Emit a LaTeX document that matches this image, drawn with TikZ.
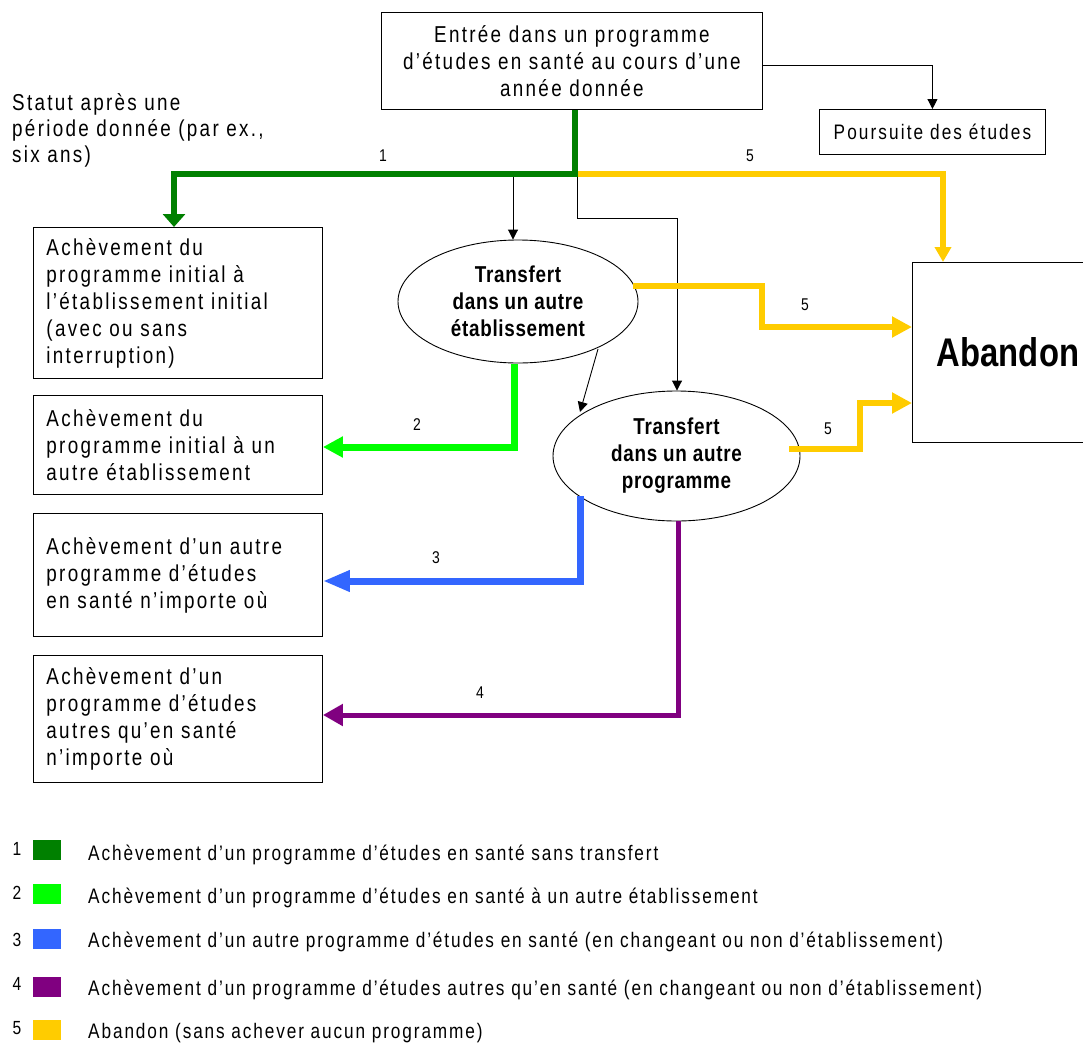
\documentclass[tikz,border=0pt]{standalone}
\usepackage{fontspec}
\setmainfont{Liberation Sans}[FakeStretch=0.82,LetterSpace=10]
\newfontfamily\legfont{Liberation Sans}[FakeStretch=0.82,LetterSpace=9]
\newfontfamily\ovfont{Liberation Sans}[FakeStretch=0.82,LetterSpace=3]
\newfontfamily\abfont{Liberation Sans}[FakeStretch=0.82]
\usetikzlibrary{arrows.meta,shapes.geometric}
\definecolor{cDG}{HTML}{008000}
\definecolor{cBG}{HTML}{00FF00}
\definecolor{cBL}{HTML}{3366FF}
\definecolor{cPU}{HTML}{800080}
\definecolor{cYE}{HTML}{FFCC00}
\tikzset{
  txt/.style={font=\fontsize{23}{27}\selectfont},
  box/.style={draw, line width=0.9pt, anchor=north west, txt, align=left, inner xsep=13pt, inner ysep=0pt},
  oval/.style={draw, ellipse, line width=0.9pt, inner sep=0pt, align=center, font=\fontsize{23}{27}\selectfont\ovfont\bfseries},
  thinarrow/.style={line width=0.9pt, -{Triangle[width=10pt,length=10pt]}},
  thick/.style={line width=6pt},
  lab/.style={font=\fontsize{17}{20}\selectfont\legfont, inner sep=0pt},
  swatch/.style={minimum width=28pt, minimum height=20pt, inner sep=0pt, anchor=north west},
  legtxt/.style={font=\fontsize{21}{25}\selectfont\legfont, anchor=west, inner sep=0pt},
  legnum/.style={font=\fontsize{19}{20}\selectfont\legfont, inner sep=0pt}
}
\begin{document}
\begin{tikzpicture}[x=1pt,y=-1pt]
\useasboundingbox (0,0) rectangle (1083,1044);

% boxes
\node[draw, line width=0.9pt, anchor=north west, minimum width=381pt, minimum height=97pt, txt, align=center, inner sep=0pt] (entry) at (381,12)
  {Entrée dans un programme\\d’études en santé au cours d’une\\année donnée};
\node[draw, line width=0.9pt, anchor=north west, minimum width=226pt, minimum height=45pt, font=\fontsize{21}{25}\selectfont, inner sep=0pt] (pours) at (819,109) {Poursuite des études};
\node[txt, anchor=north west, align=left, inner sep=0pt, font=\fontsize{23}{26}\selectfont] (statut) at (12,93) {Statut après une\\période donnée (par ex.,\\six ans)};

\node[box, minimum width=289pt, minimum height=151pt, text width=263pt] (b1) at (33,227)
  {Achèvement du\\programme initial à\\l’établissement initial\\(avec ou sans\\interruption)};
\node[box, minimum width=289pt, minimum height=99pt, text width=263pt] (b2) at (33,395)
  {Achèvement du\\programme initial à un\\autre établissement};
\node[box, minimum width=289pt, minimum height=123pt, text width=263pt] (b3) at (33,513)
  {Achèvement d’un autre\\programme d’études\\en santé n’importe où};
\node[box, minimum width=289pt, minimum height=127pt, text width=263pt] (b4) at (33,655)
  {Achèvement d’un\\programme d’études\\autres qu’en santé\\n’importe où};

\node[oval, minimum width=240pt, minimum height=123pt] (e1) at (518,301.5) {Transfert\\dans un autre\\établissement};
\node[oval, minimum width=247pt, minimum height=130pt] (e2) at (676.5,456) {Transfert\\dans un autre\\programme};

\node[draw, line width=0.9pt, anchor=north west, minimum width=190pt, minimum height=180pt, inner sep=0pt] (ab) at (912,262) {};
\node[font=\fontsize{40}{44}\selectfont\abfont\bfseries, inner sep=0pt] (abt) at (1008,352) {Abandon};

% junction coordinates
\coordinate (j) at (575,174);
\coordinate (gL) at (174,174);
\coordinate (yL) at (578,174);
\coordinate (yR) at (943,174);
\coordinate (k1) at (513,174);
\coordinate (k2) at (577,174);
\coordinate (k3) at (577,218);
\coordinate (k4) at (677,218);

% thin connectors
\draw[thinarrow] (entry.east) ++(0,4.5) -| (pours.north);
\draw[thinarrow] (k1) -- (k1 |- e1.north);
\draw[thinarrow] (k2) -- (k3) -- (k4) -- (k4 |- e2.north);
\coordinate (ea) at (598,349);
\coordinate (eb) at (580,412);
\draw[thinarrow] (ea) -- (eb);

% 1 dark green
\draw[thick, cDG, -{Triangle[width=22pt,length=13pt]}] (entry.south -| j) -- (j) -- (gL) -- (gL |- b1.north);
% 5 yellow top
\draw[thick, cYE, -{Triangle[width=16pt,length=15pt]}] (yL) -- (yR) -- (yR |- ab.north);
% 2 bright green
\coordinate (g2a) at (514,364);
\coordinate (g2b) at (514,447);
\draw[line width=7pt, cBG, -{Triangle[width=20pt,length=20pt]}] (g2a) -- (g2b) -- (g2b -| b2.east);
% 3 blue
\coordinate (b3a) at (580.5,496);
\coordinate (b3b) at (580.5,581);
\draw[line width=7pt, cBL, -{Triangle[width=20pt,length=27pt]}] (b3a) -- (b3b) -- (b3b -| b3.east);
% 4 purple
\coordinate (p4a) at (678,521);
\coordinate (p4b) at (678,715);
\draw[line width=5pt, cPU, -{Triangle[width=21pt,length=20pt]}] (p4a) -- (p4b) -- (p4b -| b4.east);
% 5 yellow from e1
\coordinate (y1a) at (633,286);
\coordinate (y1b) at (762,286);
\coordinate (y1c) at (762,327);
\draw[thick, cYE, -{Triangle[width=20pt,length=20pt]}] (y1a) -- (y1b) -- (y1c) -- (y1c -| ab.west);
% 5 yellow from e2
\coordinate (y2a) at (789,449);
\coordinate (y2b) at (860,449);
\coordinate (y2c) at (860,403);
\draw[thick, cYE, -{Triangle[width=20pt,length=20pt]}] (y2a) -- (y2b) -- (y2c) -- (y2c -| ab.west);

% labels
\node[lab] (l1) at (383,156) {1};
\node[lab] (l5a) at (750,156) {5};
\node[lab] (l5b) at (805,305) {5};
\node[lab] (l5c) at (828,429) {5};
\node[lab] (l2) at (417,425) {2};
\node[lab] (l3) at (436,558) {3};
\node[lab] (l4) at (480,693) {4};

% legend
\node[swatch, fill=cDG] (s1) at (33,840) {};
\node[swatch, fill=cBG] (s2) at (33,884) {};
\node[swatch, fill=cBL] (s3) at (33,929) {};
\node[swatch, fill=cPU] (s4) at (33,977) {};
\node[swatch, fill=cYE] (s5) at (33,1020) {};
\node[legnum] (n1) at (17,849) {1};
\node[legnum] (n2) at (17,893) {2};
\node[legnum] (n3) at (17,940) {3};
\node[legnum] (n4) at (17,984) {4};
\node[legnum] (n5) at (17,1028) {5};
\node[legtxt] (t1) at (88,855) {Achèvement d’un programme d’études en santé sans transfert};
\node[legtxt] (t2) at (88,898) {Achèvement d’un programme d’études en santé à un autre établissement};
\node[legtxt] (t3) at (88,942) {Achèvement d’un autre programme d’études en santé (en changeant ou non d’établissement)};
\node[legtxt] (t4) at (88,990) {Achèvement d’un programme d’études autres qu’en santé (en changeant ou non d’établissement)};
\node[legtxt] (t5) at (88,1033) {Abandon (sans achever aucun programme)};
\end{tikzpicture}
\end{document}
